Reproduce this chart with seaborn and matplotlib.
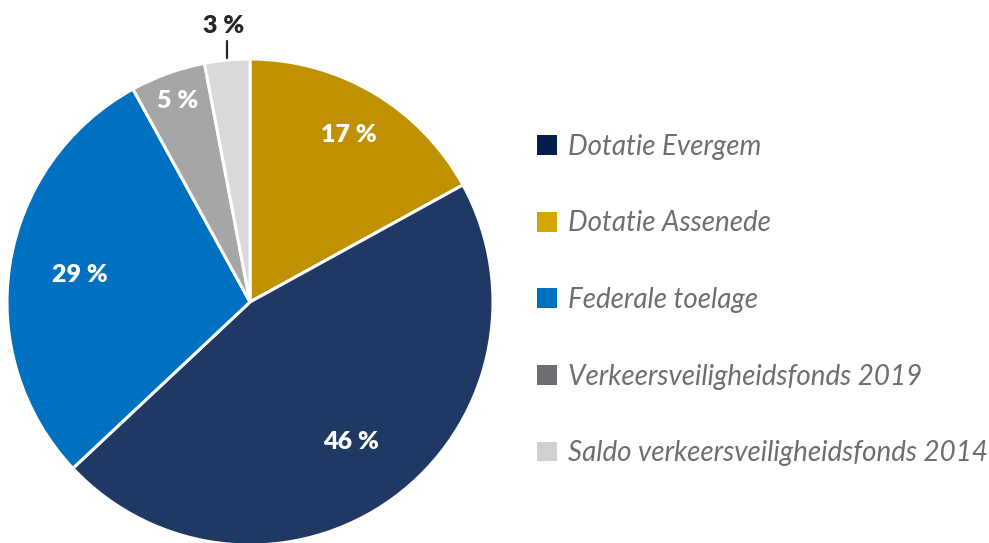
import matplotlib
matplotlib.use("Agg")
import matplotlib.pyplot as plt
from matplotlib.patches import Patch
import numpy as np
import seaborn as sns

# Funding sources, in clockwise order from the top of the pie
sources = ["Dotatie Assenede", "Dotatie Evergem", "Federale toelage",
           "Verkeersveiligheidsfonds 2019", "Saldo verkeersveiligheidsfonds 2014"]
shares = [17, 46, 29, 5, 3]
wedge_colors = ["#BF9000", "#203864", "#0070C0", "#A6A6A6", "#D9D9D9"]

# Legend order and swatch colours
legend_order = ["Dotatie Evergem", "Dotatie Assenede", "Federale toelage",
                "Verkeersveiligheidsfonds 2019", "Saldo verkeersveiligheidsfonds 2014"]
legend_colors = ["#00204A", "#D4A700", "#0070C0", "#6E6E72", "#D0D0D3"]

# Radial position of each percentage label (fraction of the radius)
label_radius = [0.80, 0.71, 0.71, 0.88, 1.14]

sns.set_theme(style="white")
plt.rcParams["font.family"] = ["Lato", "DejaVu Sans"]

W, H = 989, 543
fig = plt.figure(figsize=(W / 100, H / 100), dpi=100)
cx, cy, R = 250, 302, 243
ax = fig.add_axes([(cx - R) / W, (H - cy - R) / H, 2 * R / W, 2 * R / H])

wedges, _ = ax.pie(shares, colors=wedge_colors, startangle=90, counterclock=False,
                   radius=1.0, wedgeprops=dict(edgecolor="white", linewidth=2.2))
ax.set_xlim(-1, 1)
ax.set_ylim(-1, 1)
ax.set_aspect("equal")
ax.axis("off")

total = sum(shares)
cum = 0
for val, r in zip(shares, label_radius):
    mid = 90 - 360 * (cum + val / 2) / total
    cum += val
    a = np.deg2rad(mid)
    x, y = r * np.cos(a), r * np.sin(a)
    color = "white" if r < 1 else "#262626"
    ax.text(x, y, f"{val} %", ha="center", va="center", fontsize=18,
            fontweight="heavy", color=color, clip_on=False)
    if r >= 1:
        ax.plot([np.cos(a) * 1.015, np.cos(a) * 1.015], [1.01 * np.sin(a), 1.08 * np.sin(a)],
                color="#262626", lw=1.6, clip_on=False)

handles = [Patch(facecolor=c, edgecolor="none") for c in legend_colors]
fig.legend(handles, legend_order, loc="center left",
           bbox_to_anchor=(526 / W, 1 - 300 / H), frameon=False,
           prop=dict(family=["Lato", "DejaVu Sans"], style="italic", size=20),
           labelcolor="#6E6E72", handlelength=0.72, handleheight=0.72,
           handletextpad=0.4, labelspacing=1.82, borderaxespad=0)

fig.savefig("out.png", dpi=100, facecolor="white")
